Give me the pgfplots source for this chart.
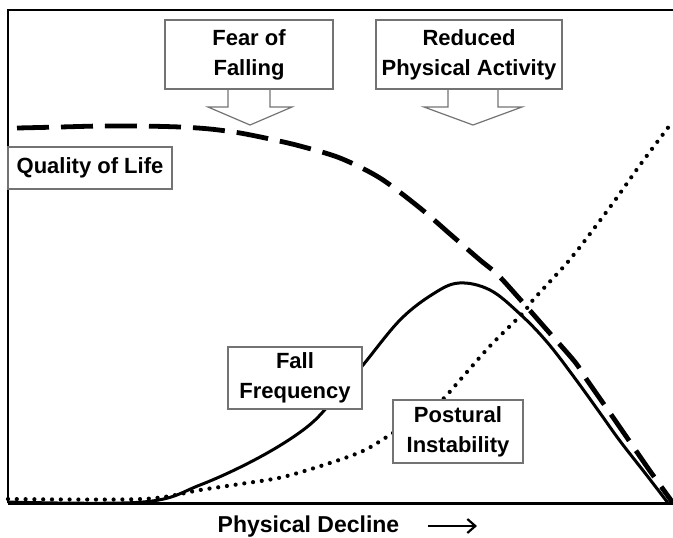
\documentclass[border=0pt]{standalone}
\usepackage{pgfplots}
\pgfplotsset{compat=1.18}
\usetikzlibrary{arrows.meta}
\usepackage{fontspec}
\setmainfont{Liberation Sans}
\tikzset{box/.style={draw=black!55, fill=white, line width=0.6pt, align=center, inner sep=0pt,
    font=\bfseries\fontsize{11}{15}\selectfont}}
\begin{document}
\begin{tikzpicture}
\useasboundingbox (-4pt,-17pt) rectangle (332.5pt,251.5pt);
\begin{axis}[scale only axis, width=332.5pt, height=246.5pt,
  xmin=8, xmax=673, ymin=10, ymax=503, y dir=reverse,
  hide axis, clip=false]
% Quality of Life (dashed)
\addplot[black, line width=2.4pt, dash pattern=on 16pt off 6pt, smooth] coordinates {
(17,128)(60,127)(100,126)(140,126)(180,127)(210,129)(240,133)(270,139)(300,146)
(340,158)(380,178)(420,208)(450,234)(480,260)(497,274)(518,297)(547,330)(575,362)
(587,380)(610,413)(630,442)(650,471)(673,503)};
% Fall Frequency (solid)
\addplot[black, line width=1.5pt, smooth, tension=0.6] coordinates {
(8,502)(143,502)(200,485)(260,457)(307,427)(335,398)(363,365)(400,320)(433,294)
(459,283)(490,290)(520,314)(547,342)(574,377)(600,413)(620,441)(645,473)(668,503)};
% Postural Instability (dotted)
\addplot[black, line width=2.1pt, line cap=round, dash pattern=on 0pt off 4.4pt, smooth] coordinates {
(8,499)(143,499)(200,490)(240,484)(283,477)(333,462)(365,450)(393,433)(420,417)
(442,400)(460,380)(490,346)(523,313)(533,300)(567,263)(580,247)(613,203)(640,165)(670,125)};
% frame
\draw[line width=1pt] (axis cs:8,503) -- (axis cs:8,10) -- (axis cs:673,10);
\draw[line width=1.5pt] (axis cs:8,503) -- (axis cs:673,503);
% boxes
\node[box, minimum width=82pt, minimum height=21pt] at (axis cs:90,168) {Quality of Life};
\node[box, minimum width=84pt, minimum height=34.5pt] at (axis cs:249,54.5) {Fear of\\Falling};
\node[box, minimum width=93pt, minimum height=34.5pt] at (axis cs:469,54.5) {Reduced\\Physical Activity};
\node[box, minimum width=67pt, minimum height=31pt] at (axis cs:295,378) {Fall\\Frequency};
\node[box, minimum width=65pt, minimum height=31.5pt] at (axis cs:458,431.5) {Postural\\Instability};
% hollow arrows
\draw[black!55, line width=0.6pt] (axis cs:228,89) -- (axis cs:228,107) -- (axis cs:208,107)
  -- (axis cs:250,125) -- (axis cs:292,107) -- (axis cs:270,107) -- (axis cs:270,89);
\draw[black!55, line width=0.6pt] (axis cs:448,89) -- (axis cs:448,107) -- (axis cs:424,107)
  -- (axis cs:473,125) -- (axis cs:522,107) -- (axis cs:498,107) -- (axis cs:498,89);
% x label
\node[anchor=base, font=\bfseries\fontsize{11.5}{14}\selectfont] at (axis cs:308.5,532) {Physical Decline};
\draw[line width=1.1pt, -{Straight Barb[length=4pt,width=7pt]}] (axis cs:428,526) -- (axis cs:477,526);
\end{axis}
\end{tikzpicture}
\end{document}
